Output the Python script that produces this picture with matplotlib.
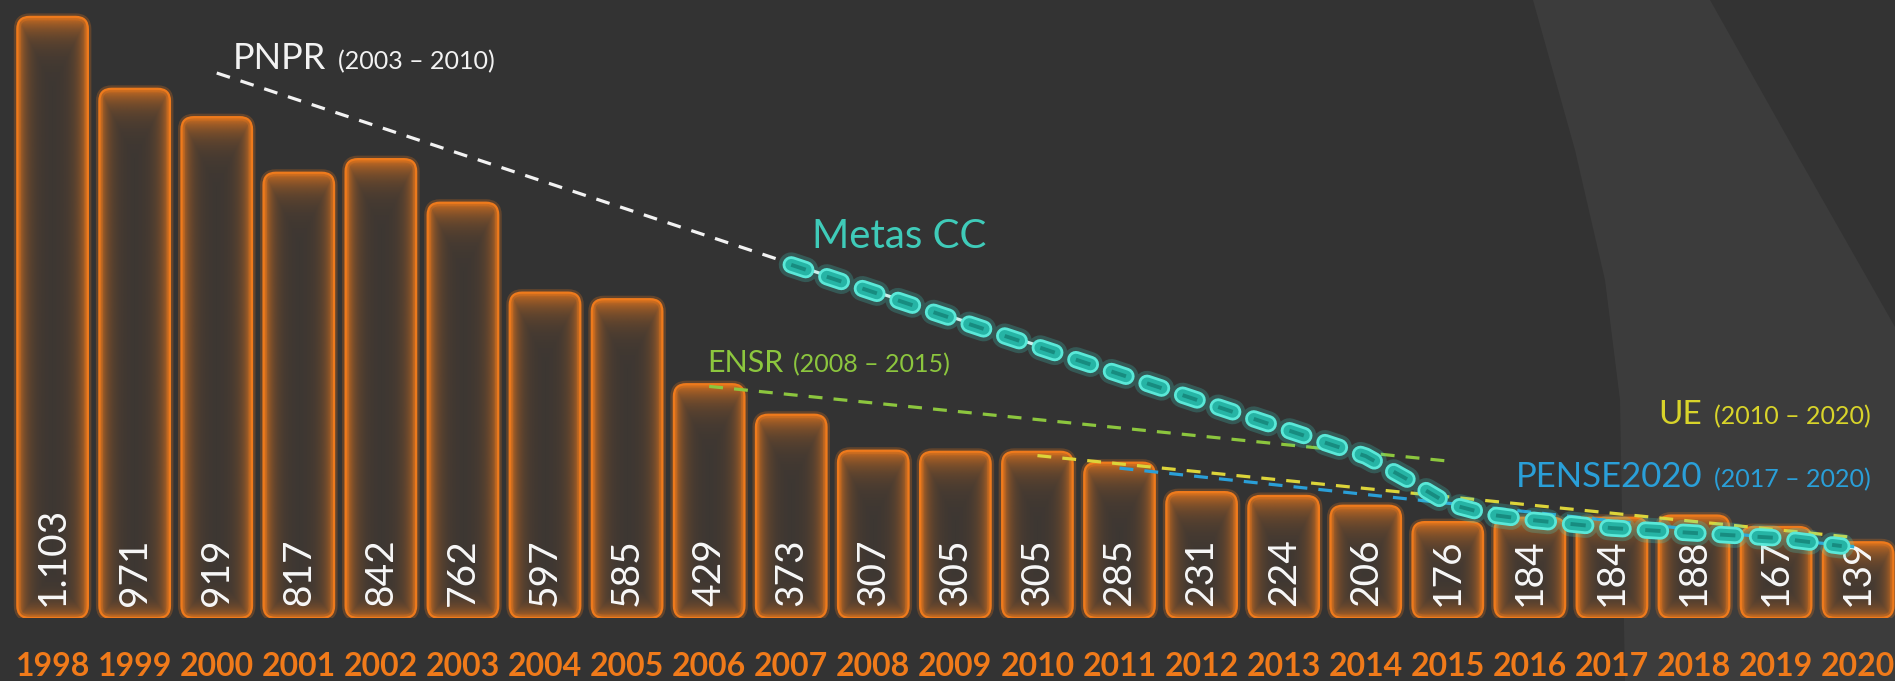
import numpy as np
import matplotlib
matplotlib.use("Agg")
import matplotlib.pyplot as plt
from matplotlib.patches import FancyBboxPatch, Polygon

plt.rcParams["lines.scale_dashes"] = False

# road deaths per year
years = list(range(1998, 2021))
deaths = [1103, 971, 919, 817, 842, 762, 597, 585, 429, 373, 307, 305,
          305, 285, 231, 224, 206, 176, 184, 184, 188, 167, 139]

# target lines
pnpr_x = [2000, 2010]
pnpr_y = [1000, 500]
metas_x = [2007, 2014, 2014.5, 2015, 2015.5, 2016, 2017, 2018, 2019, 2019.8]
metas_y = [648, 297, 255, 210, 190, 180, 165, 156, 147, 132]
ensr_x = [2006, 2015]
ensr_y = [425, 288]
ue_x = [2010, 2020]
ue_y = [298, 147]
pense_x = [2011, 2020]
pense_y = [275, 130]

W, H, DPI = 1895, 681, 100
BG = "#333333"
ORANGE = "#ee7a1c"

fig = plt.figure(figsize=(W / DPI, H / DPI), dpi=DPI, facecolor=BG)

# light swoosh in the background
band = Polygon([(1533 / W, 1), (1575 / W, 1 - 150 / H), (1605 / W, 1 - 280 / H),
                (1620 / W, 1 - 400 / H), (1625 / W, 0), (1, 0), (1, 1 - 327 / H),
                (1800 / W, 1 - 160 / H), (1710 / W, 1)],
               closed=True, transform=fig.transFigure, facecolor="#3c3c3c",
               edgecolor="none", zorder=-5)
fig.patches.append(band)

base_px = 618
py_unit = 0.545          # pixels per death
px_unit = 82.07          # pixels per year
ax = fig.add_axes([0, (H - base_px) / H, 1, base_px / H])
ax.set_zorder(1)
ax.set_facecolor("none")
ax.axis("off")

x_lo = 1998 - 52.6 / px_unit
x_hi = x_lo + W / px_unit
y_hi = base_px / py_unit

bw = 0.86
aspect = px_unit / py_unit
orange_rgb = np.array(matplotlib.colors.to_rgb(ORANGE))
box = "round,pad=0,rounding_size=0.15"

for yr, v in zip(years, deaths):
    x0 = yr - bw / 2
    clip = FancyBboxPatch((x0, 0), bw, v, boxstyle=box, mutation_aspect=aspect,
                          facecolor="#383533", edgecolor="none", zorder=2)
    ax.add_patch(clip)

    # inner orange glow fading towards the middle
    w_px = bw * px_unit
    h_px = v * py_unit
    nx, ny = int(w_px), max(int(h_px), 2)
    gx, gy = np.meshgrid(np.linspace(0, w_px, nx), np.linspace(0, h_px, ny))
    dx = np.minimum(gx, w_px - gx)
    a = np.maximum.reduce([0.85 * np.exp(-dx / 8),
                           0.85 * np.exp(-(h_px - gy) / 16),
                           0.7 * np.exp(-gy / 11)])
    a = np.clip(a + 0.02, 0, 1)
    img = np.zeros((ny, nx, 4))
    img[..., :3] = orange_rgb
    img[..., 3] = a
    im = ax.imshow(img, extent=[x0, x0 + bw, 0, v], origin="lower",
                   aspect="auto", interpolation="bilinear", zorder=3)
    im.set_clip_path(clip)

    for lw, al in [(5, 0.25), (1.6, 1.0)]:
        ax.add_patch(FancyBboxPatch((x0, 0), bw, v, boxstyle=box,
                                    mutation_aspect=aspect, facecolor="none",
                                    edgecolor=ORANGE, lw=lw, alpha=al, zorder=4))

    label = f"{v:,}".replace(",", ".")
    ax.text(yr, 12 / py_unit, label, rotation=90, ha="center", va="bottom",
            color="#f8f8f8", fontsize=28, family="Lato", zorder=6)
    ax.text(yr, -(666 - base_px) / base_px, str(yr),
            transform=ax.get_xaxis_transform(), ha="center", va="center",
            color="#f07a1a", fontsize=23, family="Lato", fontweight="bold")

# thin dashed target lines
dash = (10, 8)
ax.plot(pnpr_x, pnpr_y, color="#f2f2f2", lw=2.3, dashes=dash, zorder=7)
ax.plot(ensr_x, ensr_y, color="#8cc63e", lw=2.3, dashes=dash, zorder=7)
ax.plot(pense_x, pense_y, color="#2a9fd8", lw=2.3, dashes=dash, zorder=7)
ax.plot(ue_x, ue_y, color="#dcd43a", lw=2.3, dashes=dash, zorder=7)

# glowing capsule line for Metas CC
cap = (11, 16)
ax.plot(metas_x, metas_y, color="#40e0d0", lw=18, alpha=0.22, dashes=cap,
        dash_capstyle="round", zorder=8)
ax.plot(metas_x, metas_y, color="#5ae8d8", lw=12.5, dashes=cap,
        dash_capstyle="round", zorder=9)
ax.plot(metas_x, metas_y, color="#26b4a5", lw=8.5, dashes=cap,
        dash_capstyle="round", zorder=10)
ax.plot(metas_x, metas_y, color="#178c80", lw=2.8, dashes=cap,
        dash_capstyle="butt", zorder=11)

ax.set_xlim(x_lo, x_hi)
ax.set_ylim(0, y_hi)

renderer = fig.canvas.get_renderer()


def label_left(px, py, text, sub, color, size, sub_size, gap=12):
    t = fig.text(px / W, 1 - py / H, text, color=color, fontsize=size,
                 family="Lato", va="baseline", ha="left")
    if sub:
        x1 = t.get_window_extent(renderer).x1
        fig.text((x1 + gap) / W, 1 - py / H, sub, color=color,
                 fontsize=sub_size, family="Lato", va="baseline", ha="left")


def label_right(px, py, text, sub, color, size, sub_size, gap=12):
    s = fig.text(px / W, 1 - py / H, sub, color=color, fontsize=sub_size,
                 family="Lato", va="baseline", ha="right")
    x0 = s.get_window_extent(renderer).x0
    fig.text((x0 - gap) / W, 1 - py / H, text, color=color, fontsize=size,
             family="Lato", va="baseline", ha="right")


label_left(233, 69, "PNPR", "(2003 – 2010)", "#f2f2f2", 26, 18)
label_left(812, 248, "Metas CC", None, "#3fcbb9", 29, 0)
label_left(707, 372, "ENSR", "(2008 – 2015)", "#8cc63e", 22, 18, gap=10)
label_right(1871, 424, "UE", "(2010 – 2020)", "#d8d42a", 24, 18)
label_right(1871, 487, "PENSE2020", "(2017 – 2020)", "#2a9fd8", 25, 18)

fig.savefig("out.png", dpi=DPI, facecolor=BG)
